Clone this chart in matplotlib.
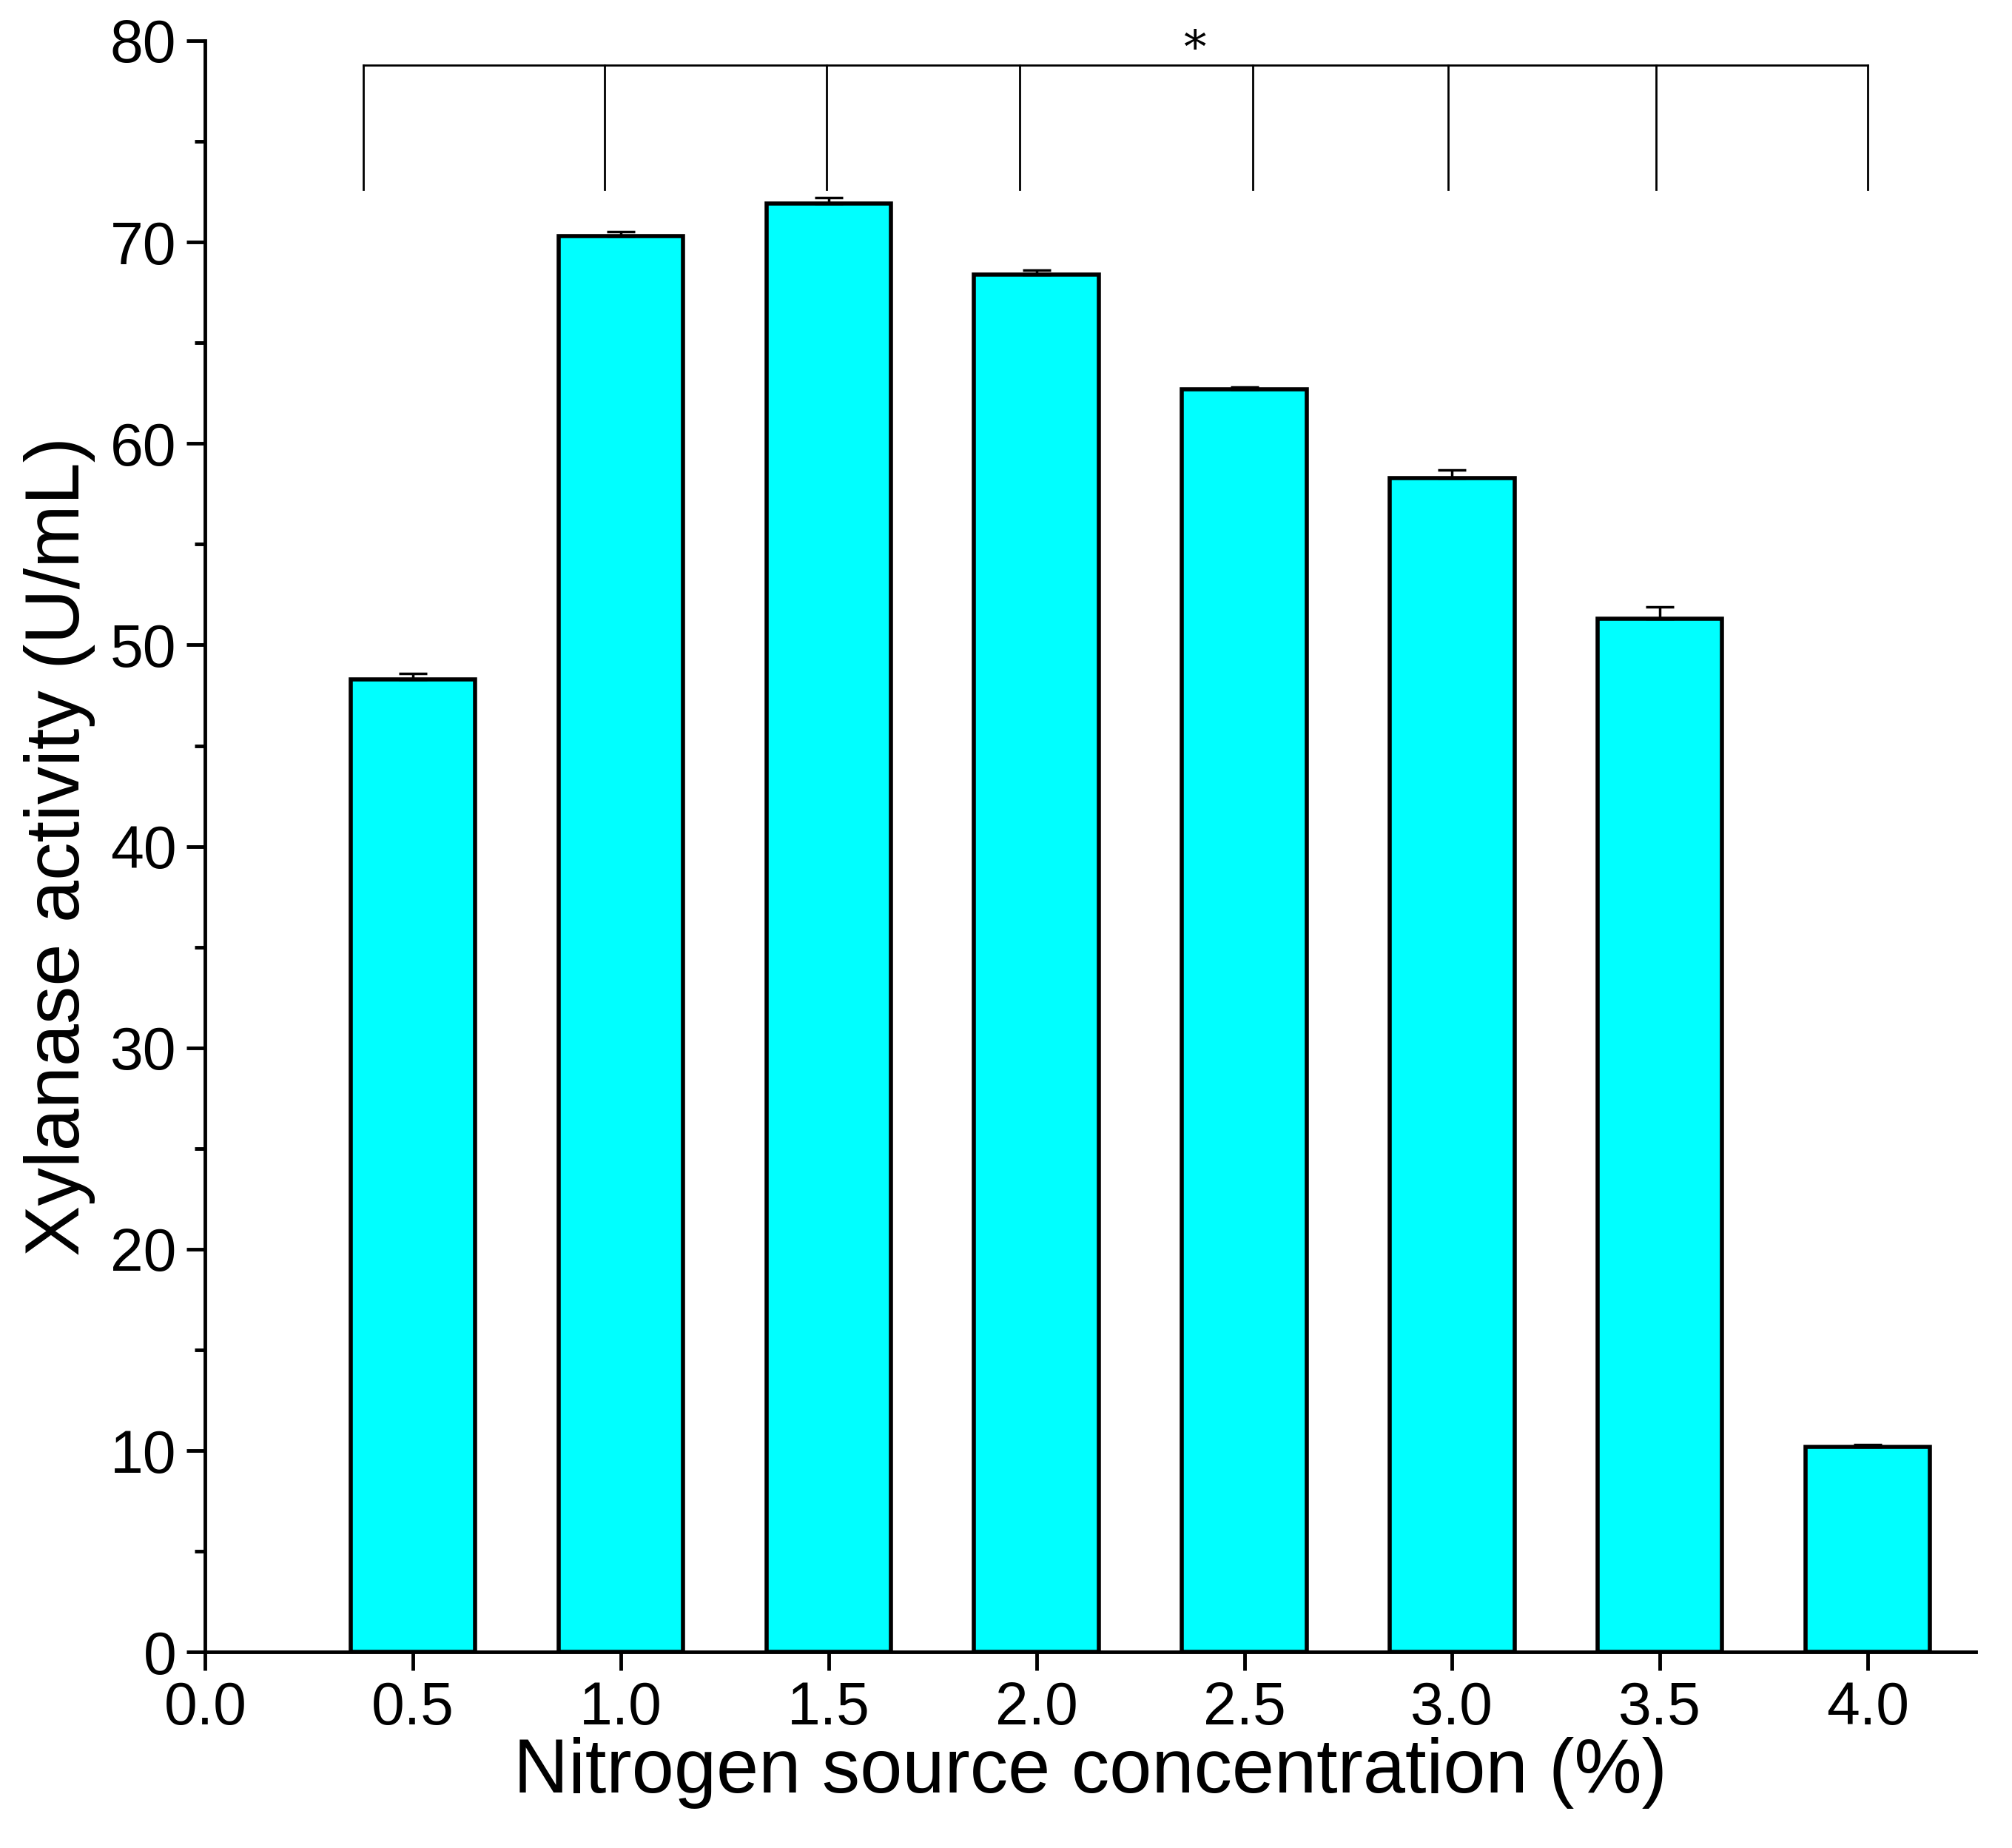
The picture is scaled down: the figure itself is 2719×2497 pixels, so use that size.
import matplotlib
matplotlib.use("Agg")
import matplotlib.pyplot as plt
from matplotlib.ticker import MultipleLocator

plt.rcParams['font.family'] = ['Liberation Sans', 'DejaVu Sans']

conc = [0.5, 1.0, 1.5, 2.0, 2.5, 3.0, 3.5, 4.0]
activity = [48.3, 70.3, 71.9, 68.4, 62.7, 58.3, 51.3, 10.2]
errors = [0.3, 0.2, 0.3, 0.2, 0.1, 0.4, 0.6, 0.1]
bracket_x = [0.38, 0.96, 1.495, 1.96, 2.52, 2.99, 3.49, 4.0]
bracket_top = 78.8
bracket_bottom = 72.6

fig = plt.figure(figsize=(27.19, 24.97), dpi=100)
ax = fig.add_axes([0.102, 0.106, 0.880, 0.872])
ax.bar(conc, activity, width=0.3, color='#00FFFF', edgecolor='black', linewidth=4, zorder=2)
ax.errorbar(conc, activity, yerr=[[0]*len(errors), errors], fmt='none', capsize=14,
            elinewidth=2.5, capthick=2.5, ecolor='black', zorder=3)

ax.plot([bracket_x[0], bracket_x[-1]], [bracket_top, bracket_top], color='black', lw=2)
for bx in bracket_x:
    ax.plot([bx, bx], [bracket_bottom, bracket_top], color='black', lw=2)
ax.text(2.38, bracket_top - 0.4, '*', ha='center', va='bottom', fontsize=44, family='DejaVu Serif')

ax.set_xlim(0, 4.26)
ax.set_ylim(0, 80)
ax.xaxis.set_major_locator(MultipleLocator(0.5))
ax.xaxis.set_major_formatter(matplotlib.ticker.FormatStrFormatter('%.1f'))
ax.yaxis.set_major_locator(MultipleLocator(10))
ax.yaxis.set_minor_locator(MultipleLocator(5))
for s in ['top', 'right']:
    ax.spines[s].set_visible(False)
for s in ['left', 'bottom']:
    ax.spines[s].set_linewidth(3.5)
ax.tick_params(which='major', length=18, width=3.5, labelsize=58, pad=10)
ax.tick_params(which='minor', length=10, width=3.5)
ax.set_xlabel('Nitrogen source concentration (%)', fontsize=74, labelpad=0)
ax.set_ylabel('Xylanase activity (U/mL)', fontsize=74, labelpad=14)

fig.savefig('out.png', dpi=100)
